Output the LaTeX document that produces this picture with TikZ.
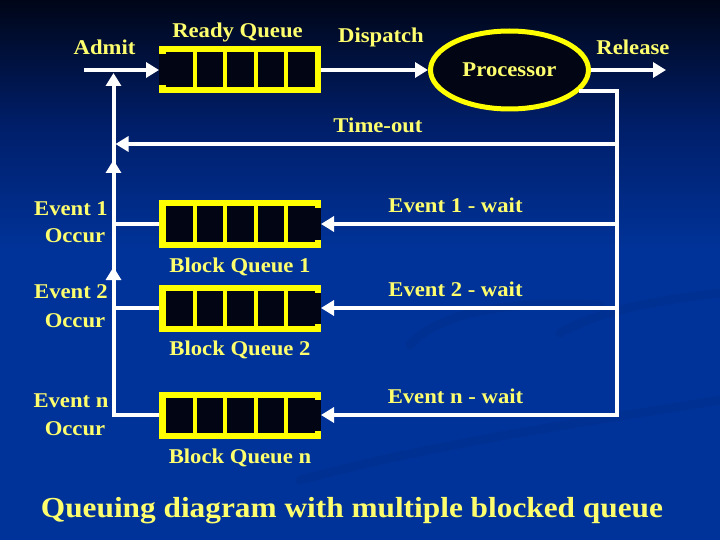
\documentclass[tikz,border=0pt]{standalone}
\usepackage{fontspec}
\setmainfont{Liberation Serif}[FakeStretch=1.08]
\usetikzlibrary{arrows.meta,shapes.geometric,calc}
\definecolor{bgblue}{RGB}{0,51,153}
\definecolor{bgtop}{RGB}{0,6,24}
\definecolor{bgmid}{RGB}{0,30,105}
\definecolor{swoosh}{RGB}{0,42,132}
\definecolor{qyellow}{RGB}{255,255,0}
\definecolor{tyellow}{RGB}{255,255,110}
\definecolor{cellblk}{RGB}{2,6,20}
\begin{document}
\begin{tikzpicture}[x=1pt,y=-1pt,
  wl/.style={draw=white,line width=4pt},
  arr/.style={wl,-{Triangle[length=13pt,width=15pt]}},
  lblfont/.style={font=\bfseries\fontsize{21}{25}\selectfont},
  lbl/.style={text=tyellow,lblfont,anchor=base,inner sep=0pt},
  queue/.style={fill=qyellow,minimum width=162pt,minimum height=47pt,inner sep=0pt,outer sep=0pt},
  swooshline/.style={draw=swoosh,line width=9pt,opacity=0.3,line cap=round},
]
% background
\useasboundingbox (0,0) rectangle (720,540);
\fill[bgblue] (0,0) rectangle (720,540);
\shade[top color=bgtop,bottom color=bgblue,middle color=bgmid] (0,0) rectangle (720,250);
\draw[swooshline] (410,345) .. controls (440,310) and (520,300) .. (600,305);
\draw[swooshline] (560,333) .. controls (600,310) and (660,300) .. (720,293);
\draw[swooshline] (300,480) .. controls (450,440) and (600,420) .. (720,400);

% queues
\node[queue] (rq)  at (240,70)  {};
\node[queue] (bq1) at (240,224) {};
\node[queue] (bq2) at (240,308) {};
\node[queue] (bqn) at (240,415) {};
\foreach \q in {rq,bq1,bq2,bqn}{
  \foreach \i in {0,...,4}
    \fill[cellblk] ($(\q.north west)+(7+\i*30.6,6)$) rectangle ++(26.6,35);
}
\fill[cellblk] ($(rq.north west)+(0,8)$) rectangle ++(7,31);
\foreach \q in {bq1,bq2,bqn}
  \fill[cellblk] ($(\q.north east)+(-7,8)$) rectangle ++(7,31);

% processor
\node[ellipse,draw=qyellow,line width=5pt,fill=cellblk,minimum width=158pt,minimum height=78pt,inner sep=0pt,
      text=tyellow,lblfont] (proc) at (509.5,70) {Processor};

% coordinates
\coordinate (admitstart) at (84,70);
\coordinate (L) at (113.5,70);
\coordinate (R) at (617,90);
\coordinate (relend) at (666,70);
\coordinate (to) at (378,144);
\coordinate (h1) at (113.5,160);
\coordinate (h2) at (113.5,267);

% connectors
\draw[arr] (admitstart) -- (rq.west);
\draw[arr] (rq.east) -- (proc.west);
\draw[arr] (proc.east) -- (relend);
\draw[arr] (proc.-17) -- (proc.-17 -| R) -- (R |- bqn.east) -- (bqn.east);
\draw[arr] (R |- bq1.east) -- (bq1.east);
\draw[arr] (R |- bq2.east) -- (bq2.east);
\draw[arr] (R |- to) -- ($(L |- to)+(2,0)$);
\draw[arr] (bqn.west) -| ($(L)+(0,3)$);
\draw[wl] (bq1.west) -- (L |- bq1.west);
\draw[wl] (bq2.west) -- (L |- bq2.west);
\draw[arr] (L |- bq1.west) -- (h1);
\draw[arr] (L |- bq2.west) -- (h2);

% labels
\node[lbl] (admit) at (104.5,55) {Admit};
\node[lbl] (rqlbl) at (237.5,37.5) {Ready Queue};
\node[lbl] (disp) at (381,43) {Dispatch};
\node[lbl] (rel) at (633,55) {Release};
\node[lbl] (tout) at (378,133) {Time-out};
\node[lbl] (w1) at (455.5,212) {Event 1 - wait};
\node[lbl] (w2) at (455.5,296) {Event 2 - wait};
\node[lbl] (wn) at (455.5,403) {Event n - wait};
\node[lbl] (e1a) at (71,215) {Event 1};
\node[lbl] (e1b) at (75,243) {Occur};
\node[lbl] (e2a) at (71,298) {Event 2};
\node[lbl] (e2b) at (75,327) {Occur};
\node[lbl] (ena) at (71,407) {Event n};
\node[lbl] (enb) at (75,435) {Occur};
\node[lbl] (b1) at (240,272) {Block Queue 1};
\node[lbl] (b2) at (240,355) {Block Queue 2};
\node[lbl] (bn) at (240,463) {Block Queue n};
\node[lbl,font=\bfseries\fontsize{29}{33}\selectfont] (title) at (352,517) {Queuing diagram with multiple blocked queue};
\end{tikzpicture}
\end{document}
